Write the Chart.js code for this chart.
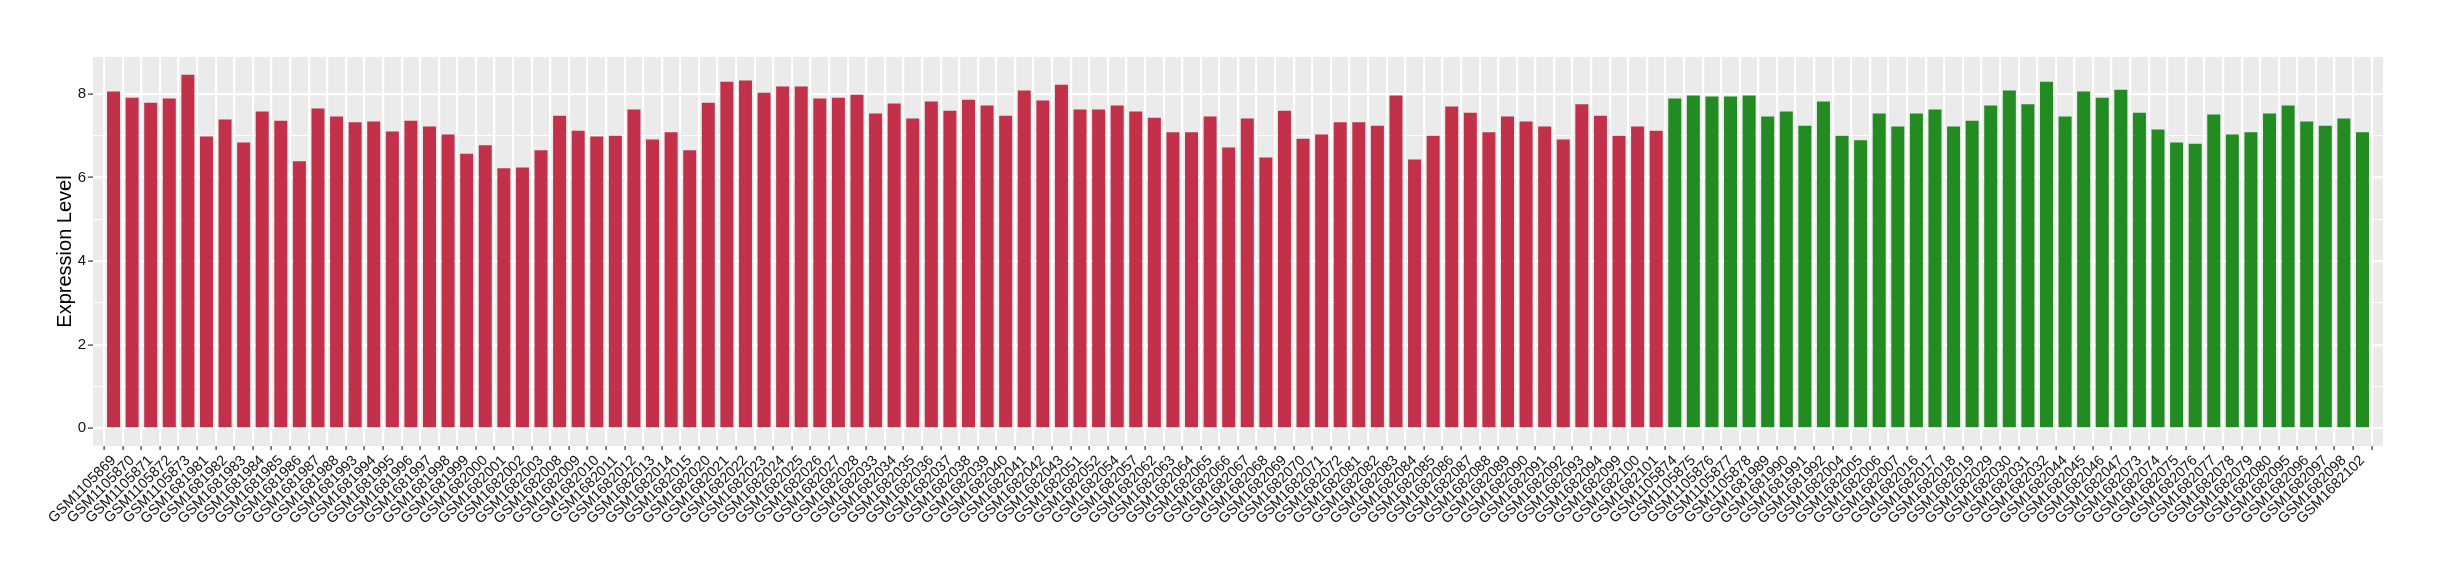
<!DOCTYPE html>
<html>
<head>
<meta charset="utf-8">
<script src="https://cdn.jsdelivr.net/npm/chart.js@4"></script>
<style>
  html, body { margin: 0; padding: 0; background: #fff; }
  #wrap { width: 2440px; height: 580px; }
</style>
</head>
<body>
<div id="wrap"><canvas id="grafico"></canvas></div>
<script>
const redSamples = [
  'GSM1105869', 'GSM1105870', 'GSM1105871', 'GSM1105872', 'GSM1105873',
  'GSM1681981', 'GSM1681982', 'GSM1681983', 'GSM1681984', 'GSM1681985', 'GSM1681986', 'GSM1681987', 'GSM1681988',
  'GSM1681993', 'GSM1681994', 'GSM1681995', 'GSM1681996', 'GSM1681997', 'GSM1681998', 'GSM1681999',
  'GSM1682000', 'GSM1682001', 'GSM1682002', 'GSM1682003',
  'GSM1682008', 'GSM1682009', 'GSM1682010', 'GSM1682011', 'GSM1682012', 'GSM1682013', 'GSM1682014', 'GSM1682015',
  'GSM1682020', 'GSM1682021', 'GSM1682022', 'GSM1682023', 'GSM1682024', 'GSM1682025', 'GSM1682026', 'GSM1682027', 'GSM1682028',
  'GSM1682033', 'GSM1682034', 'GSM1682035', 'GSM1682036', 'GSM1682037', 'GSM1682038', 'GSM1682039', 'GSM1682040', 'GSM1682041', 'GSM1682042', 'GSM1682043',
  'GSM1682051', 'GSM1682052', 'GSM1682054', 'GSM1682057',
  'GSM1682062', 'GSM1682063', 'GSM1682064', 'GSM1682065', 'GSM1682066', 'GSM1682067', 'GSM1682068', 'GSM1682069', 'GSM1682070', 'GSM1682071', 'GSM1682072',
  'GSM1682081', 'GSM1682082', 'GSM1682083', 'GSM1682084', 'GSM1682085', 'GSM1682086', 'GSM1682087', 'GSM1682088', 'GSM1682089', 'GSM1682090', 'GSM1682091', 'GSM1682092', 'GSM1682093', 'GSM1682094',
  'GSM1682099', 'GSM1682100', 'GSM1682101'
];
const redValues = [
  8.06, 7.91, 7.79, 7.89, 8.46,
  6.98, 7.39, 6.84, 7.58, 7.36, 6.39, 7.65, 7.46,
  7.32, 7.34, 7.10, 7.36, 7.22, 7.03, 6.57,
  6.77, 6.22, 6.24, 6.65,
  7.48, 7.12, 6.98, 7.00, 7.63, 6.91, 7.08, 6.65,
  7.79, 8.29, 8.32, 8.03, 8.18, 8.18, 7.89, 7.91, 7.98,
  7.53, 7.77, 7.41, 7.82, 7.60, 7.86, 7.72, 7.48, 8.08, 7.84, 8.22,
  7.63, 7.63, 7.72, 7.58,
  7.43, 7.08, 7.08, 7.46, 6.72, 7.41, 6.48, 7.60, 6.93, 7.03, 7.32,
  7.32, 7.24, 7.96, 6.43, 7.00, 7.70, 7.55, 7.08, 7.46, 7.34, 7.22, 6.91, 7.75, 7.48,
  7.00, 7.22, 7.12
];
const greenSamples = [
  'GSM1105874', 'GSM1105875', 'GSM1105876', 'GSM1105877', 'GSM1105878',
  'GSM1681989', 'GSM1681990', 'GSM1681991', 'GSM1681992',
  'GSM1682004', 'GSM1682005', 'GSM1682006', 'GSM1682007',
  'GSM1682016', 'GSM1682017', 'GSM1682018', 'GSM1682019',
  'GSM1682029', 'GSM1682030', 'GSM1682031', 'GSM1682032',
  'GSM1682044', 'GSM1682045', 'GSM1682046', 'GSM1682047',
  'GSM1682073', 'GSM1682074', 'GSM1682075', 'GSM1682076', 'GSM1682077', 'GSM1682078', 'GSM1682079', 'GSM1682080',
  'GSM1682095', 'GSM1682096', 'GSM1682097', 'GSM1682098',
  'GSM1682102'
];
const greenValues = [
  7.89, 7.96, 7.94, 7.94, 7.96,
  7.46, 7.58, 7.24, 7.82,
  7.00, 6.89, 7.53, 7.22,
  7.53, 7.63, 7.22, 7.36,
  7.72, 8.08, 7.75, 8.29,
  7.46, 8.06, 7.91, 8.10,
  7.55, 7.15, 6.84, 6.81, 7.51, 7.03, 7.08, 7.53,
  7.72, 7.34, 7.24, 7.41,
  7.08
];
const yTicks = [0, 2, 4, 6, 8];

const corVermelha = '#C23149';
const corVerde = '#228B22';

const amostras = redSamples.concat(greenSamples);
const valores = redValues.concat(greenValues);
const cores = redSamples.map(() => corVermelha).concat(greenSamples.map(() => corVerde));
const pontos = valores.map((v, i) => ({ x: i, y: v }));

const maxValor = Math.max(...valores);

// fundo cinza do painel, estilo ggplot
const fundoPainel = {
  id: 'fundoPainel',
  beforeDraw(chart) {
    const { ctx, chartArea } = chart;
    ctx.save();
    ctx.fillStyle = '#EBEBEB';
    ctx.fillRect(chartArea.left, chartArea.top, chartArea.right - chartArea.left, chartArea.bottom - chartArea.top);
    ctx.restore();
  }
};

const ehMaior = v => yTicks.includes(v);
const fonte = '"Liberation Sans", Arial, sans-serif';

new Chart(document.getElementById('grafico'), {
  type: 'bar',
  data: {
    datasets: [{
      data: pontos,
      backgroundColor: cores,
      barPercentage: 0.7,
      categoryPercentage: 1
    }]
  },
  options: {
    responsive: true,
    maintainAspectRatio: false,
    animation: false,
    layout: { padding: { top: 57, right: 57, left: 0, bottom: 0 } },
    plugins: {
      legend: { display: false },
      tooltip: { enabled: false }
    },
    scales: {
      x: {
        type: 'linear',
        min: -0.6,
        max: amostras.length - 0.4,
        afterFit: scale => { scale.height = 134; },
        border: { display: false },
        grid: {
          color: '#FFFFFF',
          lineWidth: 2.2,
          tickColor: '#333333',
          tickLength: 4,
          tickWidth: 1.2
        },
        ticks: {
          stepSize: 1,
          includeBounds: false,
          autoSkip: false,
          minRotation: 45,
          maxRotation: 45,
          padding: 2,
          color: '#111111',
          font: { family: fonte, size: 14.5 },
          callback: v => amostras[v] || ''
        }
      },
      y: {
        min: -maxValor * 0.05,
        max: maxValor * 1.05,
        afterFit: scale => { scale.width = 93; },
        border: { display: false },
        grid: {
          color: '#FFFFFF',
          lineWidth: ctx => ehMaior(ctx.tick.value) ? 2.2 : 1.1,
          tickColor: ctx => ehMaior(ctx.tick.value) ? '#333333' : 'rgba(0,0,0,0)',
          tickLength: 5,
          tickWidth: 1.2
        },
        ticks: {
          stepSize: 1,
          includeBounds: false,
          padding: 2,
          color: '#111111',
          font: { family: fonte, size: 15 },
          callback: v => ehMaior(v) ? String(v) : ''
        },
        title: {
          display: true,
          text: 'Expression Level',
          color: '#000000',
          padding: { top: 53, bottom: 0 },
          font: { family: fonte, size: 20 }
        }
      }
    }
  },
  plugins: [fundoPainel]
});
</script>
</body>
</html>
